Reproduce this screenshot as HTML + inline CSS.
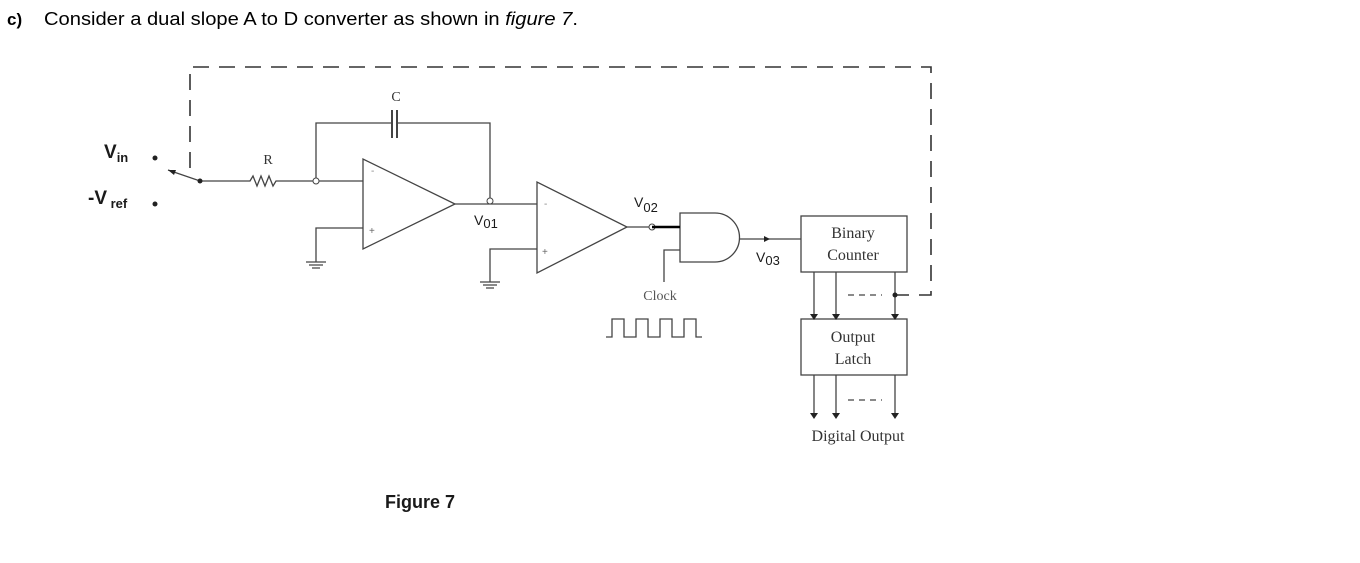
<!DOCTYPE html>
<html><head><style>
body{margin:0;background:#fff;width:1360px;height:563px;overflow:hidden}
</style></head><body>
<svg width="1360" height="563" xmlns="http://www.w3.org/2000/svg" style="position:absolute;left:0;top:0">
<text x="7" y="25" font-family="Liberation Sans, sans-serif" font-size="17" font-weight="bold">c)</text>
<text x="44" y="25" font-family="Liberation Sans, sans-serif" font-size="18" textLength="534" lengthAdjust="spacingAndGlyphs">Consider a dual slope A to D converter as shown in <tspan font-style="italic">figure 7</tspan>.</text>
<g stroke="#444" stroke-width="1.3" fill="none">
<path d="M190 168 V67 H931 V295 H895" stroke-dasharray="16,10" stroke="#333" stroke-width="1.6"/>
<path d="M168 170 L200 181 H250 l3 -5 l4 10 l4 -10 l4 10 l4 -10 l4 10 l3 -5 H363"/>
<path d="M316 181 V123 H392 M397 123 H490 V204"/>
<path d="M392 110 V138 M397 110 V138" stroke-width="2"/>
<path d="M363 159 V249 L455 204 Z"/>
<path d="M363 228 H316 V262 M306 262 H326 M309 265 H323 M312 268 H320"/>
<path d="M455 204 H537"/>
<path d="M537 182 V273 L627 227 Z"/>
<path d="M537 249 H490 V282 M480 282 H500 M483 285 H497 M486 288 H494"/>
<path d="M627 227 H680"/>
<path d="M680 213 H715 A24.5 24.5 0 0 1 715 262 H680 Z"/>
<path d="M680 250 H664 V282"/>
<path d="M740 239 H801"/>
<rect x="801" y="216" width="106" height="56"/>
<rect x="801" y="319" width="106" height="56"/>
<path d="M814 272 V314 M836 272 V314 M895 272 V314 M814 375 V413 M836 375 V413 M895 375 V413"/>
<path d="M848 295 H882 M848 400 H882" stroke-dasharray="6,5"/>
<path d="M606 337 H612 V319 H624 V337 H636 V319 H648 V337 H660 V319 H672 V337 H684 V319 H696 V337 H702"/>
</g>
<g fill="#222">
<circle cx="155" cy="158" r="2.5"/><circle cx="155" cy="204" r="2.5"/><circle cx="200" cy="181" r="2.5"/>
<circle cx="895" cy="295" r="2.5"/>
<path d="M810 314 H818 L814 320 Z M832 314 H840 L836 320 Z M891 314 H899 L895 320 Z M810 413 H818 L814 419 Z M832 413 H840 L836 419 Z M891 413 H899 L895 419 Z M764 236 L770 239 L764 242 Z"/>
<path d="M168 170 L176 170 L174 175 Z"/>
</g>
<circle cx="316" cy="181" r="3" fill="#fff" stroke="#444"/>
<circle cx="490" cy="201" r="3" fill="#fff" stroke="#444"/>
<circle cx="652" cy="227" r="3" fill="#fff" stroke="#444"/>
<path d="M652 227 H680" stroke="#000" stroke-width="2.5"/>
<g font-family="Liberation Sans, sans-serif" fill="#1a1a1a">
<text x="104" y="158" font-size="19" font-weight="bold">V<tspan font-size="13" dy="4">in</tspan></text>
<text x="88" y="204" font-size="19" font-weight="bold">-V<tspan font-size="13" dy="4"> ref</tspan></text>
<text x="371" y="174" font-size="10" fill="#888">-</text><text x="369" y="234" font-size="10" fill="#666">+</text>
<text x="544" y="207" font-size="10" fill="#888">-</text><text x="542" y="255" font-size="10" fill="#666">+</text>
<text x="474" y="225" font-size="14">V<tspan font-size="13" dy="3">01</tspan></text>
<text x="634" y="207" font-size="14">V<tspan font-size="13" dy="5">02</tspan></text>
<text x="756" y="262" font-size="14">V<tspan font-size="13" dy="3">03</tspan></text>
<text x="420" y="508" font-size="18" font-weight="bold" text-anchor="middle">Figure 7</text>
</g>
<g font-family="Liberation Serif, serif" fill="#333" text-anchor="middle">
<text x="396" y="101" font-size="14">C</text>
<text x="268" y="164" font-size="14">R</text>
<text x="660" y="300" font-size="14" fill="#555">Clock</text>
<text x="853" y="238" font-size="16">Binary</text>
<text x="853" y="260" font-size="16">Counter</text>
<text x="853" y="342" font-size="16">Output</text>
<text x="853" y="364" font-size="16">Latch</text>
<text x="858" y="441" font-size="16">Digital Output</text>
</g>
</svg>
</body></html>
